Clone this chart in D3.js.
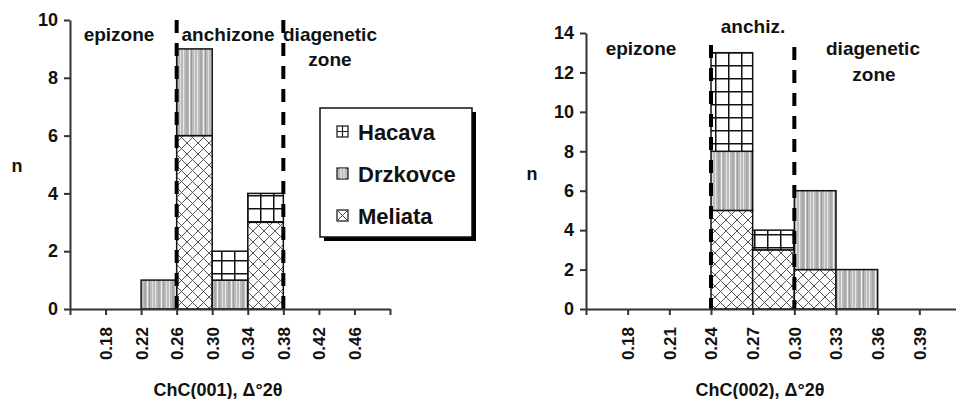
<!DOCTYPE html>
<html>
<head>
<meta charset="utf-8">
<style>
  body { margin: 0; background: #fff; }
  svg text { font-family: "Liberation Sans", Arial, sans-serif; font-weight: bold; fill: #111; }
</style>
</head>
<body>
<div class="chart"></div>
<script src="https://cdnjs.cloudflare.com/ajax/libs/d3/7.8.5/d3.min.js"></script>
<script>
// ---- data ----
const seriesNames = ["Meliata", "Drzkovce", "Hacava"];   // stack order, bottom to top
const legendOrder = ["Hacava", "Drzkovce", "Meliata"];

// left panel: ChC(001)
const leftTicks = [0.18, 0.22, 0.26, 0.30, 0.34, 0.38, 0.42, 0.46];
const leftBins = [0.22, 0.26, 0.30, 0.34];
const leftMeliata = [0, 6, 0, 3];
const leftDrzkovce = [1, 3, 1, 0];
const leftHacava = [0, 0, 1, 1];
const leftBounds = [0.26, 0.38];
const leftYTicks = [0, 2, 4, 6, 8, 10];

// right panel: ChC(002)
const rightTicks = [0.18, 0.21, 0.24, 0.27, 0.30, 0.33, 0.36, 0.39];
const rightBins = [0.24, 0.27, 0.30, 0.33];
const rightMeliata = [5, 3, 2, 0];
const rightDrzkovce = [3, 0, 4, 2];
const rightHacava = [5, 1, 0, 0];
const rightBounds = [0.24, 0.30];
const rightYTicks = [0, 2, 4, 6, 8, 10, 12, 14];

const W = 956, H = 399;
const svg = d3.select(".chart").append("svg").attr("width", W).attr("height", H);

// ---- patterns ----
const defs = svg.append("defs");
const pHac = defs.append("pattern").attr("id", "p-Hacava").attr("patternUnits", "userSpaceOnUse")
  .attr("width", 13).attr("height", 13);
pHac.append("rect").attr("width", 13).attr("height", 13).attr("fill", "#fff");
pHac.append("line").attr("x1", 0).attr("x2", 13).attr("y1", 0.75).attr("y2", 0.75).attr("stroke", "#111").attr("stroke-width", 1.5);
pHac.append("line").attr("y1", 0).attr("y2", 13).attr("x1", 0.75).attr("x2", 0.75).attr("stroke", "#111").attr("stroke-width", 1.5);

const pDrz = defs.append("pattern").attr("id", "p-Drzkovce").attr("patternUnits", "userSpaceOnUse")
  .attr("width", 14).attr("height", 10);
pDrz.append("rect").attr("width", 14).attr("height", 10).attr("fill", "#bcbcbc");
[[1, 1, "#e6e6e6"], [4, 2, "#a8a8a8"], [7, 1, "#f0f0f0"], [9, 1, "#9a9a9a"], [12, 1, "#dedede"]]
  .forEach(s => pDrz.append("rect").attr("x", s[0]).attr("width", s[1]).attr("height", 10).attr("fill", s[2]));

const pMel = defs.append("pattern").attr("id", "p-Meliata").attr("patternUnits", "userSpaceOnUse")
  .attr("width", 11).attr("height", 11);
pMel.append("rect").attr("width", 11).attr("height", 11).attr("fill", "#fff");
pMel.append("path").attr("d", "M0,0L11,11M11,0L0,11M-1,10L1,12M10,-1L12,1M10,12L12,10M-1,1L1,-1")
  .attr("stroke", "#555").attr("stroke-width", 1);

function drawPanel(o) {
  const x = d3.scaleLinear().domain(o.xDomain).range(o.xRange);
  const y = d3.scaleLinear().domain(o.yDomain).range([309, o.yTop]);
  const g = svg.append("g");

  // stacked bars
  const rows = o.bins.map((b, i) => ({ bin: b, Meliata: o.mel[i], Drzkovce: o.drz[i], Hacava: o.hac[i] }));
  const stacked = d3.stack().keys(seriesNames)(rows);
  stacked.forEach(layer => {
    g.selectAll(null).data(layer.filter(d => d[1] > d[0])).join("rect")
      .attr("x", d => x(d.data.bin))
      .attr("width", d => x(d.data.bin + o.step) - x(d.data.bin))
      .attr("y", d => y(d[1]))
      .attr("height", d => y(d[0]) - y(d[1]))
      .attr("fill", `url(#p-${layer.key})`)
      .attr("stroke", "#111").attr("stroke-width", 1.5);
  });

  // zone boundaries
  g.selectAll(null).data(o.bounds).join("line")
    .attr("x1", d => x(d)).attr("x2", d => x(d))
    .attr("y1", (d, i) => o.dashTop[i]).attr("y2", 309)
    .attr("stroke", "#000").attr("stroke-width", 4).attr("stroke-dasharray", "13,10");

  // axes
  const xVals = [o.xDomain[0]].concat(o.ticks, [o.xDomain[1]]);
  const xa = g.append("g").attr("transform", "translate(0,309)")
    .call(d3.axisBottom(x).tickValues(xVals).tickSize(6).tickSizeOuter(0)
      .tickFormat(d => o.ticks.some(t => Math.abs(t - d) < 1e-9) ? d3.format(".2f")(d) : ""));
  xa.select(".domain").attr("stroke", "#333").attr("stroke-width", 2);
  xa.selectAll(".tick line").attr("stroke", "#333").attr("stroke-width", 2);
  xa.selectAll(".tick text")
    .attr("transform", "rotate(-90)").attr("x", -18).attr("y", 0).attr("dy", "0.35em")
    .style("text-anchor", "end").style("font-size", "17px").attr("fill", "#111");

  const ya = g.append("g").attr("transform", `translate(${o.xRange[0]},0)`)
    .call(d3.axisLeft(y).tickValues(o.yTicks).tickSize(6).tickSizeOuter(0));
  ya.select(".domain").attr("stroke", "#333").attr("stroke-width", 2);
  ya.selectAll(".tick line").attr("stroke", "#333").attr("stroke-width", 2);
  ya.selectAll(".tick text").attr("x", -12).style("font-size", "18px").attr("fill", "#111");

  // labels
  g.append("text").attr("x", o.nX).attr("y", o.nY).attr("text-anchor", "middle")
    .style("font-size", "18px").text("n");
  g.append("text").attr("x", o.titleX).attr("y", 396).attr("text-anchor", "middle")
    .style("font-size", "18px").text(o.title);
  o.zones.forEach(z => g.append("text").attr("x", z[1]).attr("y", z[2])
    .attr("text-anchor", "middle").style("font-size", "19px").text(z[0]));
}

drawPanel({
  xDomain: [0.14, 0.50], xRange: [70, 390], yDomain: [0, 10], yTop: 20, step: 0.04,
  bins: leftBins, mel: leftMeliata, drz: leftDrzkovce, hac: leftHacava,
  ticks: leftTicks, yTicks: leftYTicks, bounds: leftBounds, dashTop: [20, 20],
  nX: 17, nY: 172, titleX: 218, title: "ChC(001), Δ°2θ",
  zones: [["epizone", 119, 41], ["anchizone", 228, 41], ["diagenetic", 330, 41], ["zone", 330, 66]]
});

drawPanel({
  xDomain: [0.15, 0.42], xRange: [586, 961], yDomain: [0, 14], yTop: 33, step: 0.03,
  bins: rightBins, mel: rightMeliata, drz: rightDrzkovce, hac: rightHacava,
  ticks: rightTicks, yTicks: rightYTicks, bounds: rightBounds, dashTop: [45, 47],
  nX: 532, nY: 180, titleX: 760, title: "ChC(002), Δ°2θ",
  zones: [["anchiz.", 753, 33], ["epizone", 641, 55], ["diagenetic", 873, 55], ["zone", 874, 81]]
});

// ---- legend ----
const lg = svg.append("g").attr("transform", "translate(320,108)");
lg.append("rect").attr("x", 4).attr("y", 4).attr("width", 152).attr("height", 129).attr("fill", "#000");
lg.append("rect").attr("width", 152).attr("height", 129).attr("fill", "#fff").attr("stroke", "#111").attr("stroke-width", 1.5);
const ly = d3.scalePoint().domain(legendOrder).range([24, 108]);
legendOrder.forEach(name => {
  const yy = ly(name);
  const sw = lg.append("g").attr("transform", `translate(17,${yy - 6})`);
  sw.append("rect").attr("width", 11).attr("height", 11).attr("fill", name === "Drzkovce" ? "#bcbcbc" : "#fff")
    .attr("stroke", "#222").attr("stroke-width", 1.3);
  if (name === "Hacava") sw.append("path").attr("d", "M5.5,0V11M0,5.5H11").attr("stroke", "#222").attr("stroke-width", 1.2);
  if (name === "Drzkovce") sw.append("path").attr("d", "M4,0V11M7,0V11").attr("stroke", "#eee").attr("stroke-width", 1);
  if (name === "Meliata") sw.append("path").attr("d", "M0,0L11,11M11,0L0,11").attr("stroke", "#444").attr("stroke-width", 1);
  lg.append("text").attr("x", 38).attr("y", yy + 8).style("font-size", "22px").text(name);
});
</script>
</body>
</html>
